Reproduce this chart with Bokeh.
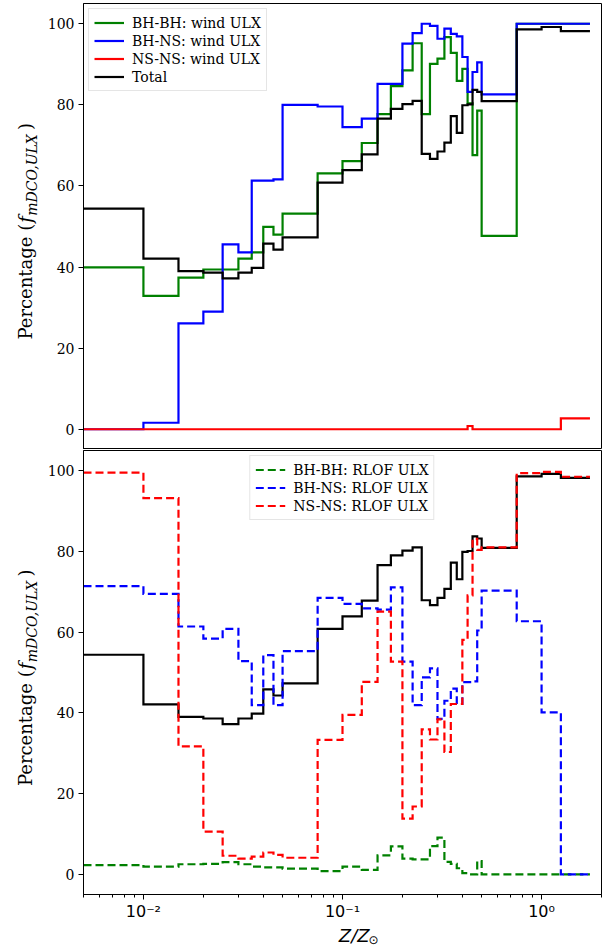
import math
from bokeh.plotting import figure
from bokeh.models import (Range1d, FixedTicker, LogTicker, CustomJSTickFormatter,
                          Legend, LegendItem)
from bokeh.core.properties import value
from bokeh.layouts import column, row
from bokeh.embed import file_html
from bokeh.resources import INLINE

# ---- data: metallicity grid (Z/Zsun) and step values per bin ----
z_edges = [0.005, 0.01, 0.015, 0.02, 0.025, 0.03, 0.035, 0.04, 0.045, 0.05,
           0.075, 0.1, 0.125, 0.15, 0.175, 0.2, 0.225, 0.25, 0.275, 0.3,
           0.325, 0.35, 0.375, 0.4, 0.425, 0.45, 0.475, 0.5, 0.75, 1.0,
           1.25, 1.5, 1.75]

total = [54.4, 42.1, 39.0, 38.6, 37.2, 38.6, 39.8, 45.8, 44.3, 47.3,
         60.8, 63.9, 67.8, 76.6, 79.0, 80.2, 81.0, 67.9, 66.7, 68.5,
         70.7, 77.2, 73.1, 79.9, 80.1, 83.7, 83.2, 80.9, 98.6, 99.2,
         98.2, 98.2]

bhbh_wind = [39.9, 32.9, 37.4, 39.4, 39.4, 42.1, 43.6, 49.9, 48.0, 53.2,
             63.1, 66.1, 70.6, 77.7, 84.6, 88.5, 95.2, 77.7, 90.1, 91.4,
             96.7, 92.8, 85.9, 88.9, 80.4, 67.6, 78.6, 47.7, 100.0, 100.0,
             100.0, 100.0]

bhns_wind = [0.0, 1.6, 26.1, 29.0, 45.6, 43.6, 61.3, 61.3, 61.6, 80.0,
             79.6, 74.5, 76.6, 85.2, 85.2, 95.1, 97.7, 100.0, 99.5, 96.3,
             98.8, 97.5, 96.9, 91.8, 83.2, 88.1, 90.5, 82.6, 100.0, 100.0,
             100.0, 100.0]

nsns_wind = [0.0, 0.0, 0.0, 0.0, 0.0, 0.0, 0.0, 0.0, 0.0, 0.0,
             0.0, 0.0, 0.0, 0.0, 0.0, 0.0, 0.0, 0.0, 0.0, 0.0,
             0.0, 0.0, 0.0, 0.0, 0.8, 0.0, 0.0, 0.0, 0.0, 0.0,
             2.7, 2.7]

bhbh_rlof = [2.3, 1.9, 2.5, 2.6, 3.0, 2.5, 1.9, 1.7, 1.7, 1.4,
             0.8, 1.9, 1.1, 4.7, 6.9, 3.9, 3.7, 3.7, 7.0, 9.1,
             3.1, 2.6, 1.5, 0.3, 0.0, 0.0, 3.3, 0.0, 0.0, 0.0,
             0.0, 0.0]

bhns_rlof = [71.4, 69.5, 61.4, 58.4, 60.8, 52.8, 41.9, 54.3, 41.9, 55.3,
             68.5, 67.0, 65.9, 65.6, 71.1, 52.7, 41.9, 48.8, 51.0, 38.5,
             43.0, 46.0, 42.2, 47.6, 47.6, 47.8, 60.4, 70.3, 62.7, 40.1,
             0.0, 0.0]

nsns_rlof = [99.5, 93.2, 31.7, 10.6, 4.6, 3.9, 4.4, 5.4, 4.8, 4.1,
             33.3, 39.5, 47.7, 65.1, 52.7, 13.8, 16.8, 35.9, 33.4, 38.4,
             30.3, 42.2, 42.2, 58.1, 69.1, 83.1, 80.4, 81.0, 99.4, 99.7,
             98.5, 98.5]

y_ticks = [0, 20, 40, 60, 80, 100]

top_labels = ["BH-BH: wind ULX", "BH-NS: wind ULX", "NS-NS: wind ULX", "Total"]
bot_labels = ["BH-BH: RLOF ULX", "BH-NS: RLOF ULX", "NS-NS: RLOF ULX"]


def steps(v):
    return list(v) + [v[-1]]


SERIF = "DejaVu Serif"
SANS = "DejaVu Sans"

# ---- layout sizes (px) ----
YLAB_W = 44
MAIN_W = 560
TOP_H = 449
BOT_H = 474
XLAB_H = 24

x_range = Range1d(0.005, 2.0)

sup_js = """
const sup = {"-": "\u207b", "0": "\u2070", "1": "\u00b9", "2": "\u00b2", "3": "\u00b3",
             "4": "\u2074", "5": "\u2075", "6": "\u2076", "7": "\u2077", "8": "\u2078", "9": "\u2079"};
const e = Math.round(Math.log10(tick));
return "10" + String(e).split("").map(c => sup[c]).join("");
"""


def make_fig(height, border_top, border_bottom):
    p = figure(width=MAIN_W, height=height, x_axis_type="log", x_range=x_range,
               y_range=Range1d(-5, 105), output_backend="svg",
               toolbar_location=None, min_border_left=37, min_border_right=3,
               min_border_top=border_top, min_border_bottom=border_bottom)
    p.grid.visible = False
    p.outline_line_color = "black"
    p.outline_line_width = 1
    p.yaxis.ticker = FixedTicker(ticks=y_ticks)
    p.yaxis.major_label_text_font = SERIF
    p.yaxis.major_label_text_font_size = "14px"
    p.yaxis.major_label_text_color = "black"
    p.yaxis.major_tick_in = 0
    p.yaxis.major_tick_out = 5
    p.yaxis.minor_tick_out = 0
    p.yaxis.minor_tick_in = 0
    p.yaxis.major_label_standoff = 4
    p.yaxis.axis_line_color = "black"
    p.yaxis.major_tick_line_color = "black"
    return p


def style_legend(lg):
    lg.label_text_font = SERIF
    lg.label_text_font_size = "14px"
    lg.label_text_color = "black"
    lg.border_line_color = "#cccccc"
    lg.border_line_width = 1
    lg.background_fill_alpha = 0.8
    lg.glyph_width = 30
    lg.glyph_height = 17
    lg.label_height = 17
    lg.label_standoff = 8
    lg.spacing = 1
    lg.padding = 5
    lg.margin = 5


lw = 2.2
dash = "8 4"

# ---------------- top panel ----------------
top = make_fig(TOP_H, 3, 0)
top.xaxis.visible = False
r_g = top.step(z_edges, steps(bhbh_wind), mode="after", line_color="#008000",
               line_width=lw, line_join="miter")
r_b = top.step(z_edges, steps(bhns_wind), mode="after", line_color="#0000ff",
               line_width=lw, line_join="miter")
r_r = top.step(z_edges, steps(nsns_wind), mode="after", line_color="#ff0000",
               line_width=lw, line_join="miter")
r_k = top.step(z_edges, steps(total), mode="after", line_color="black",
               line_width=lw, line_join="miter")
lg1 = Legend(items=[LegendItem(label=l, renderers=[r]) for l, r in
                    zip(top_labels, [r_g, r_b, r_r, r_k])], location="top_left")
style_legend(lg1)
top.add_layout(lg1)

# ---------------- bottom panel ----------------
bot = make_fig(BOT_H, 1, 28)
bot.step(z_edges, steps(total), mode="after", line_color="black",
         line_width=lw, line_join="miter")
s_g = bot.step(z_edges, steps(bhbh_rlof), mode="after", line_color="#008000",
               line_width=lw, line_dash=dash, line_join="miter")
s_b = bot.step(z_edges, steps(bhns_rlof), mode="after", line_color="#0000ff",
               line_width=lw, line_dash=dash, line_join="miter")
s_r = bot.step(z_edges, steps(nsns_rlof), mode="after", line_color="#ff0000",
               line_width=lw, line_dash=dash, line_join="miter")
lg2 = Legend(items=[LegendItem(label=l, renderers=[r]) for l, r in
                    zip(bot_labels, [s_g, s_b, s_r])], location="top_center")
style_legend(lg2)
bot.add_layout(lg2)

bot.xaxis.ticker = LogTicker(num_minor_ticks=10)
bot.xaxis.formatter = CustomJSTickFormatter(code=sup_js)
bot.xaxis.major_label_text_font = SANS
bot.xaxis.major_label_text_font_size = "16px"
bot.xaxis.major_label_text_color = "black"
bot.xaxis.major_tick_in = 0
bot.xaxis.major_tick_out = 5
bot.xaxis.minor_tick_in = 0
bot.xaxis.minor_tick_out = 3
bot.xaxis.major_label_standoff = 2
bot.xaxis.axis_line_color = "black"

# ---------------- y-axis label strip (page pixel coordinates) ----------------
YLAB_H = TOP_H + BOT_H
ylab = figure(width=YLAB_W, height=YLAB_H, x_range=Range1d(0, YLAB_W),
              y_range=Range1d(0, YLAB_H), output_backend="svg",
              toolbar_location=None, min_border=0,
              x_axis_location=None, y_axis_location=None)
ylab.grid.visible = False
ylab.outline_line_color = None

FS, SUB_FS = 18, 14
W_MAIN = 5.85 * FS       # "Percentage ("
W_F = 0.45 * FS          # italic f
W_SUB = 6.05 * SUB_FS    # "mDCO,ULX"
W_CLOSE = 0.39 * FS      # ")"
W_ALL = W_MAIN + W_F + W_SUB + W_CLOSE
XCOL = 25

top_center = YLAB_H - (3 + 449) / 2
bot_center = YLAB_H - (450 + 895) / 2
for c in (top_center, bot_center):
    s = c - W_ALL / 2 + W_MAIN
    ylab.text(x=[XCOL], y=[s], text=["Percentage ("], angle=math.pi / 2,
              text_font=value(SERIF), text_font_size=f"{FS}px",
              text_align="right", text_baseline="middle", text_color="black")
    ylab.text(x=[XCOL], y=[s + 1], text=["f"], angle=math.pi / 2,
              text_font=value(SERIF), text_font_style="italic",
              text_font_size=f"{FS}px", text_align="left",
              text_baseline="middle", text_color="black")
    ylab.text(x=[XCOL + 6], y=[s + W_F], text=["mDCO,ULX"], angle=math.pi / 2,
              text_font=value(SERIF), text_font_style="italic",
              text_font_size=f"{SUB_FS}px", text_align="left",
              text_baseline="middle", text_color="black")
    ylab.text(x=[XCOL], y=[s + W_F + W_SUB + 1], text=[")"], angle=math.pi / 2,
              text_font=value(SERIF), text_font_size=f"{FS}px",
              text_align="left", text_baseline="middle", text_color="black")

# ---------------- x-axis label strip ----------------
xlab = figure(width=MAIN_W, height=XLAB_H, x_range=Range1d(0, MAIN_W),
              y_range=Range1d(0, XLAB_H), output_backend="svg",
              toolbar_location=None, min_border=0,
              x_axis_location=None, y_axis_location=None)
xlab.grid.visible = False
xlab.outline_line_color = None
frame_mid = (81 + 601) / 2 - YLAB_W
xlab.text(x=[frame_mid - 21], y=[12], text=["Z/Z"], text_font=value(SANS),
          text_font_style="italic", text_font_size="18px", text_align="left",
          text_baseline="middle", text_color="black")
xlab.text(x=[frame_mid + 11], y=[8], text=["\u2299"], text_font=value(SANS),
          text_font_size="12px", text_align="left", text_baseline="middle",
          text_color="black")

layout = row(ylab, column(top, bot, xlab, spacing=0), spacing=0)
open("out.html", "w").write(file_html(layout, INLINE))
